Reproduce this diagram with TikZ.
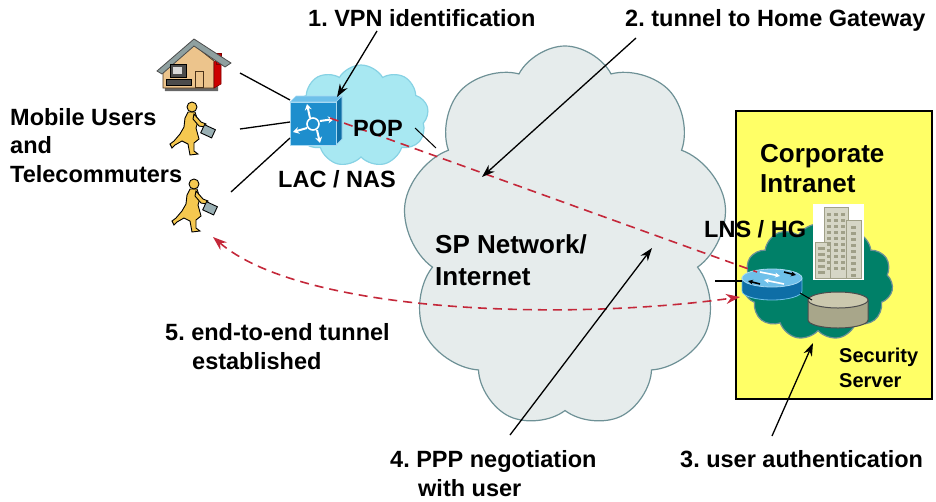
\documentclass[tikz,border=0pt]{standalone}
\usepackage{fontspec}
\setmainfont{Liberation Sans}
\usetikzlibrary{positioning,arrows.meta}
\usetikzlibrary{shapes.symbols}
\usetikzlibrary{shapes.geometric}

\definecolor{tunnelred}{RGB}{196,40,58}
\definecolor{netgrey}{RGB}{230,236,236}
\definecolor{netedge}{RGB}{110,145,150}
\definecolor{popcyan}{RGB}{168,232,242}
\definecolor{popedge}{RGB}{135,210,228}
\definecolor{corpgreen}{RGB}{0,128,104}
\definecolor{corpyellow}{RGB}{255,255,102}
\definecolor{swblue}{RGB}{30,142,205}
\definecolor{swtop}{RGB}{110,192,234}
\definecolor{swside}{RGB}{14,110,166}
\definecolor{walkeryellow}{RGB}{245,200,80}
\definecolor{casegrey}{RGB}{154,176,180}
\definecolor{housetan}{RGB}{236,196,140}
\definecolor{roofgrey}{RGB}{143,160,160}
\definecolor{bldgfill}{RGB}{214,214,198}
\definecolor{bldgedge}{RGB}{160,160,136}
\definecolor{srvtop}{RGB}{203,200,174}
\definecolor{srvside}{RGB}{168,166,138}

\tikzstyle{lbl} = [font=\fontsize{23.5}{28.5}\selectfont\bfseries, inner sep=0pt, align=left]
\tikzstyle{ptr} = [-{Stealth[length=13pt,width=9pt]}, line width=1.3pt]
\tikzstyle{tun} = [tunnelred, line width=1.6pt, dash pattern=on 9pt off 6pt]
\tikzstyle{link} = [line width=1.3pt]
\tikzstyle{net} = [cloud, cloud ignores aspect, inner sep=0pt, line width=1.2pt]

\tikzset{
  walker/.pic={
    \filldraw[fill=walkeryellow, draw=black, line width=0.9pt]
      (18,11) -- (25,11) -- (28,20) -- (26,27) -- (29,38) -- (24,42) -- (24,50)
      -- (28,53) -- (20,54) -- (18,43) -- (12,40) -- (5,44) -- (2,47) -- (0,43)
      -- (4,40) -- (10,33) -- (14,26) -- (15,17) -- cycle;
    \filldraw[fill=walkeryellow, draw=black, line width=0.9pt] (22,6) circle (5);
    \filldraw[fill=walkeryellow, draw=black, line width=0.9pt]
      (24,13) -- (31,21) -- (36,23) -- (35,26) -- (29,25) -- (23,18) -- cycle;
    \filldraw[fill=casegrey, draw=black, line width=0.9pt, rotate around={-25:(35,25)}]
      (34,24) rectangle (46,33);
  }
}

\begin{document}
\frenchspacing
\begin{tikzpicture}[x=1pt,y=-1pt]
\useasboundingbox (0,0) rectangle (936,501);

% clouds
\node[net, cloud puffs=9, cloud puff arc=125, draw=netedge, fill=netgrey,
      minimum width=325pt, minimum height=382pt] (sp) at (565,237) {};
\node[net, cloud puffs=9, cloud puff arc=120, draw=popedge, fill=popcyan,
      minimum width=135pt, minimum height=102pt] (pop) at (361,116) {};

% corporate site
\draw[fill=corpyellow, line width=1.2pt] (736,111) rectangle (932,399);
\node[net, cloud puffs=11, cloud puff arc=120, draw=netedge, fill=corpgreen,
      minimum width=150pt, minimum height=116pt] (corp) at (818,282) {};

% building
\fill[white] (813,204) rectangle (864,280);
\filldraw[fill=bldgfill, draw=bldgedge, line width=0.8pt] (824,207) rectangle (848,278);
\filldraw[fill=bldgfill, draw=bldgedge, line width=0.8pt] (846,220) rectangle (861,278);
\filldraw[fill=bldgfill, draw=bldgedge, line width=0.8pt] (815,242) rectangle (830,278);
\foreach \r in {0,...,9}
  \foreach \c in {0,1,2}
    \fill[bldgedge] (827+\c*7,213+\r*6) rectangle ++(4,3);
\foreach \r in {0,...,8}
  \fill[bldgedge] (851,226+\r*6) rectangle ++(5,3);
\foreach \r in {0,...,4}
  \fill[bldgedge] (818,247+\r*6) rectangle ++(7,3);

% security server
\filldraw[fill=srvside, draw=black!70, line width=1pt]
  (808,300) -- (808,320) arc[start angle=180, end angle=0, x radius=30, y radius=8]
  -- (868,300) -- cycle;
\filldraw[fill=srvtop, draw=black!70, line width=1pt] (838,300) ellipse [x radius=30, y radius=8];
\coordinate (srv_in) at (812,300);

% LNS router
\filldraw[fill=swside, draw=swtop, line width=0.8pt]
  (742,278) -- (742,291) arc[start angle=180, end angle=0, x radius=30, y radius=9]
  -- (802,278) -- cycle;
\filldraw[fill=swtop, draw=swtop!60!white, line width=0.8pt] (772,278) ellipse [x radius=30, y radius=9];
\draw[white, line width=1.6pt, -{Stealth[length=5pt,width=5pt]}] (760,272) -- (780,276);
\draw[white, line width=1.6pt, -{Stealth[length=5pt,width=5pt]}] (784,284) -- (764,280);
\draw[black, line width=1.6pt, -{Stealth[length=5pt,width=5pt]}] (784,272) -- (796,275);
\draw[black, line width=1.6pt, -{Stealth[length=5pt,width=5pt]}] (760,284) -- (748,281);
\coordinate (lns_out) at (800,293);
\coordinate (lns_w) at (742,281);
\coordinate (lns_red) at (757,272);
\coordinate (lns_tip) at (740,297);

% LAC / NAS switch
\filldraw[fill=swtop, draw=swtop!60!white, line width=0.6pt] (290,102) -- (296,96) -- (342,96) -- (336,102) -- cycle;
\filldraw[fill=swside, draw=swtop!60!white, line width=0.6pt] (336,102) -- (342,96) -- (342,139) -- (336,145) -- cycle;
\filldraw[fill=swblue, draw=swtop!60!white, line width=0.6pt] (290,102) rectangle (336,145);
\draw[white, line width=1.6pt] (313,124) circle (6);
\foreach \a/\b in {{(310,118)}/{(307,104)}, {(320,121)}/{(334,119)}, {(317,130)}/{(320,143)}, {(307,128)}/{(293,132)}}
  \draw[white, line width=2pt, -{Stealth[length=6pt,width=7pt]}] \a -- \b;
\coordinate (sw_nw) at (290,100);
\coordinate (sw_w) at (290,122);
\coordinate (sw_sw) at (290,138);
\coordinate (sw_red) at (330,118);
\coordinate (sw_top) at (337,97);

% home office
\fill[black!60] (164,72) -- (165,91) -- (218,91) -- (218,66) -- cycle;
\filldraw[fill=housetan, draw=black!60!brown, line width=0.8pt]
  (163,88) -- (163,70) -- (194,45) -- (214,61) -- (214,88) -- cycle;
\filldraw[fill=red!80!black, draw=red!50!black, line width=0.6pt] (214,62) -- (221,57) -- (221,84) -- (214,88) -- cycle;
\filldraw[fill=red!80!black, draw=red!50!black, line width=0.5pt] (216,53) rectangle (221,64);
\filldraw[fill=roofgrey, draw=black!70, line width=0.8pt]
  (157,71) -- (194,39) -- (231,63) -- (225,67) -- (194,46) -- (162,74) -- cycle;
\filldraw[fill=housetan, draw=black!60!brown, line width=0.8pt] (195,71) rectangle (203,87);
\filldraw[fill=black!70, draw=black] (170,64) rectangle (186,77);
\fill[white!85!black] (173,67) rectangle (182,74);
\filldraw[fill=black!70, draw=black] (166,79) rectangle (191,85);

% mobile users
\pic at (170,101) {walker};
\pic at (172,178) {walker};
\coordinate (home_e) at (240,73);
\coordinate (user1_e) at (240,129);
\coordinate (user2_e) at (231,192);
\coordinate (user2_tip) at (213,237);

% access links
\draw[link] (home_e) -- (sw_nw);
\draw[link] (user1_e) -- (sw_w);
\draw[link] (user2_e) -- (sw_sw);
\coordinate (pop_e) at (415,128);
\coordinate (sp_w) at (436,148);
\draw[line width=1pt] (pop_e) -- (sp_w);
\coordinate (sp_e) at (715,281);
\draw[link] (sp_e) -- (lns_w);
\draw[line width=1pt] (lns_out) -- (srv_in);

% tunnels
\draw[tun] (sw_red) -- (lns_red);
\draw[tun, {Stealth[length=14pt,width=10pt]}-{Stealth[length=14pt,width=10pt]}]
  (user2_tip) .. controls (300,312) and (560,322) .. (lns_tip);

% labels (multi-line ones sit on the baseline of their last line)
\node[lbl, anchor=base west] (vpnlbl) at (308,26) {1. VPN identification};
\node[lbl, anchor=base west] (gwlbl) at (625,26) {2. tunnel to Home Gateway};
\node[lbl, anchor=base west] (authlbl) at (680,467) {3. user authentication};
\node[lbl, anchor=base west] (ppplbl) at (390,496) {4. PPP negotiation\\\hspace*{28pt}with user};
\node[lbl, anchor=base west] (e2elbl) at (165,369) {5. end-to-end tunnel\\\hspace*{27pt}established};
\node[lbl, anchor=base west] (userslbl) at (10,182) {Mobile Users\\and\\Telecommuters};
\node[lbl, anchor=base west] (poplbl) at (353,136) {POP};
\node[lbl, anchor=base west] (laclbl) at (278,187) {LAC / NAS};
\node[lbl, anchor=base west] (lnslbl) at (704,237) {LNS / HG};
\node[lbl, anchor=base west, font=\fontsize{26}{32}\selectfont\bfseries] (splbl) at (435,285) {SP Network/\\Internet};
\node[lbl, anchor=base west, font=\fontsize{26}{30}\selectfont\bfseries] (corplbl) at (760,192) {Corporate\\Intranet};
\node[lbl, anchor=base west, font=\fontsize{20}{25}\selectfont\bfseries] (srvlbl) at (839,387) {Security\\Server};

% step pointers
\coordinate (vpn_tail) at (377,31);
\coordinate (gw_tail) at (636,38);
\coordinate (gw_tip) at (482,177);
\coordinate (auth_tail) at (772,436);
\coordinate (auth_tip) at (813,343);
\coordinate (ppp_tail) at (510,435);
\coordinate (ppp_tip) at (652,248);
\draw[ptr] (vpn_tail) -- (sw_top);
\draw[ptr] (gw_tail) -- (gw_tip);
\draw[ptr] (auth_tail) -- (auth_tip);
\draw[ptr] (ppp_tail) -- (ppp_tip);

\end{tikzpicture}
\end{document}
